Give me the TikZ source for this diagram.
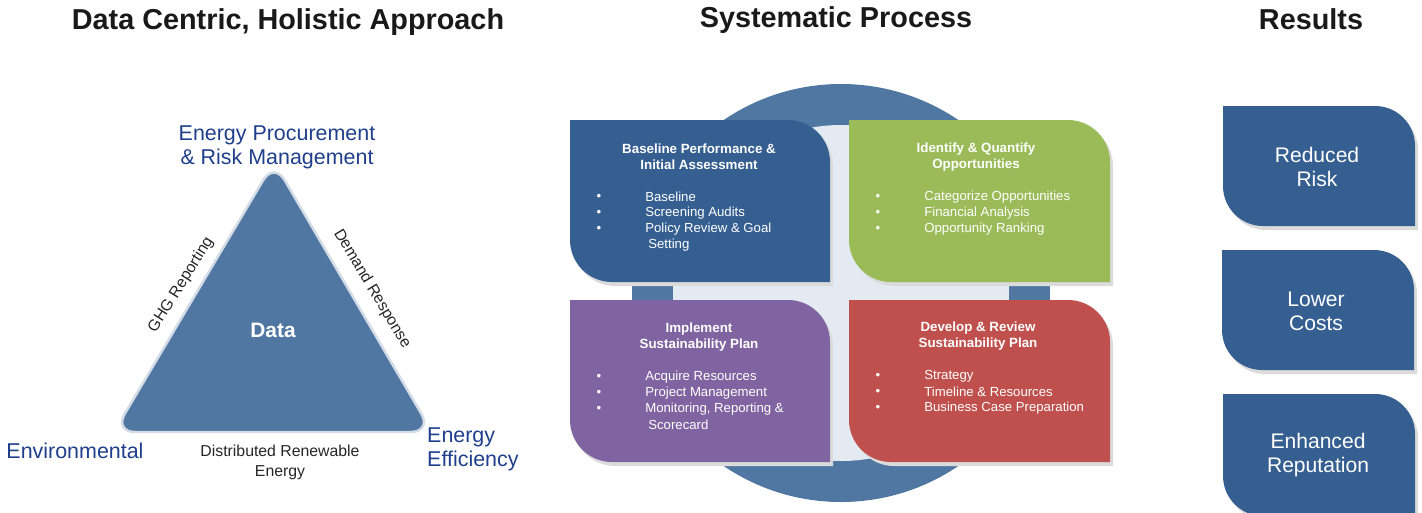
\documentclass[tikz,border=0pt]{standalone}
\usepackage{fontspec}
\setmainfont{Liberation Sans}
\usetikzlibrary{positioning}
\definecolor{ringblue}{HTML}{4F77A2}
\definecolor{triblue}{HTML}{5077A2}
\definecolor{tripale}{HTML}{D3DBE6}
\definecolor{innerpale}{HTML}{E4EAF2}
\definecolor{boxblue}{HTML}{365F91}
\definecolor{boxgreen}{HTML}{9BBB59}
\definecolor{boxpurple}{HTML}{8064A2}
\definecolor{boxred}{HTML}{C0504D}
\definecolor{labblue}{HTML}{1F3F8C}
\tikzstyle{ttl}=[font=\fontsize{16.4}{19}\selectfont\bfseries,text=black!90]
\tikzstyle{lab}=[font=\fontsize{12.2}{13.6}\selectfont,text=labblue,align=center]
\tikzstyle{edg}=[font=\fontsize{9}{11.3}\selectfont,text=black!85,align=center]
\tikzstyle{hd}=[font=\fontsize{7.6}{9.1}\selectfont\bfseries,text=white,align=center]
\tikzstyle{itm}=[font=\fontsize{7.5}{9.1}\selectfont,text=white,anchor=west,inner sep=0pt]
\tikzstyle{dot}=[font=\fontsize{7.5}{9.1}\selectfont,text=white,inner sep=0pt]
\tikzstyle{res}=[font=\fontsize{12}{13.6}\selectfont,text=white,align=center]
\tikzstyle{shd}=[black!14,shift={(3,-4)}]
% leaf shaped box: options, left, right, top, bottom, corner
\newcommand\leaf[6]{\fill[#1] (#2,#4) -- ({#3-#6},#4) arc[start angle=90,end angle=0,radius=#6]
  -- (#3,#5) -- ({#2+#6},#5) arc[start angle=270,end angle=180,radius=#6] -- cycle;}

\begin{document}
\begin{tikzpicture}[x=0.02cm,y=0.02cm]
\useasboundingbox (0,0) rectangle (1422,512);
% headings
\node[ttl] (hdata) at (288,490) {Data Centric, Holistic Approach};
\node[ttl] (hproc) at (836,492) {Systematic Process};
\node[ttl] (hres) at (1311,493) {Results};

% triangle
\coordinate (apex) at (274,350);
\coordinate (bl) at (114,80);
\coordinate (br) at (432,80);
\fill[black!12,rounded corners=12pt,shift={(4,-6)}] (apex) -- (bl) -- (br) -- cycle;
\filldraw[fill=triblue,draw=tripale,line width=1.4pt,rounded corners=12pt] (apex) -- (bl) -- (br) -- cycle;
\node[font=\fontsize{11.9}{14}\selectfont\bfseries,text=white] (data) at (273,182) {Data};
\node[lab] (procure) at (277,365) {Energy Procurement\\\& Risk Management};
\node[lab] (env) at (75,61) {Environmental};
\node[lab,align=left,anchor=west] (eff) at (421,63) {Energy\\Efficiency};
\node[edg] (renew) at (280,50) {Distributed Renewable\\Energy};
\node[edg,rotate=58] (ghg) at (181,227) {GHG Reporting};
\node[edg,rotate=-59] (demand) at (372,223) {Demand Response};

% ring
\fill[ringblue] (841,219) circle[radius=209];
\fill[innerpale] (841,219) circle[radius=168];

% process boxes
\leaf{shd}{570}{830}{392}{230}{42}
\leaf{shd}{849}{1110}{392}{230}{42}
\leaf{shd}{570}{830}{212}{50}{42}
\leaf{shd}{849}{1110}{212}{50}{42}
\leaf{boxblue}{570}{830}{392}{230}{42}
\leaf{boxgreen}{849}{1110}{392}{230}{42}
\leaf{boxpurple}{570}{830}{212}{50}{42}
\leaf{boxred}{849}{1110}{212}{50}{42}

\node[hd] (base) at (699,355) {Baseline Performance \&\\Initial Assessment};
\foreach \t [count=\k] in {Baseline, Screening Audits, Policy Review \& Goal}
  {\node[dot] (bd\k) at (599,{331-16*\k}) {•};
   \node[itm] (bt\k) at (645,{331-16*\k}) {\t};}
\node[itm] (bt4) at (648,267) {Setting};

\node[hd] (ident) at (976,355) {Identify \& Quantify\\Opportunities};
\foreach \t [count=\k] in {Categorize Opportunities, Financial Analysis, Opportunity Ranking}
  {\node[dot] (id\k) at (878,{331-16*\k}) {•};
   \node[itm] (it\k) at (924,{331-16*\k}) {\t};}

\node[hd] (impl) at (699,175) {Implement\\Sustainability Plan};
\foreach \t [count=\k] in {Acquire Resources, Project Management, {Monitoring, Reporting \&}}
  {\node[dot] (md\k) at (599,{151-16*\k}) {•};
   \node[itm] (mt\k) at (645,{151-16*\k}) {\t};}
\node[itm] (mt4) at (648,87) {Scorecard};

\node[hd] (devel) at (978,176) {Develop \& Review\\Sustainability Plan};
\foreach \t [count=\k] in {Strategy, Timeline \& Resources, Business Case Preparation}
  {\node[dot] (dd\k) at (878,{152-16*\k}) {•};
   \node[itm] (dt\k) at (924,{152-16*\k}) {\t};}

% results
\leaf{shd}{1223}{1415}{406}{286}{40}
\leaf{shd}{1222}{1414}{262}{142}{40}
\leaf{shd}{1223}{1415}{118}{-4}{40}
\leaf{boxblue}{1223}{1415}{406}{286}{40}
\leaf{boxblue}{1222}{1414}{262}{142}{40}
\leaf{boxblue}{1223}{1415}{118}{-4}{40}
\node[res] (risk) at (1317,345) {Reduced\\Risk};
\node[res] (cost) at (1316,201) {Lower\\Costs};
\node[res] (repu) at (1318,57) {Enhanced\\Reputation};
\end{tikzpicture}
\end{document}
